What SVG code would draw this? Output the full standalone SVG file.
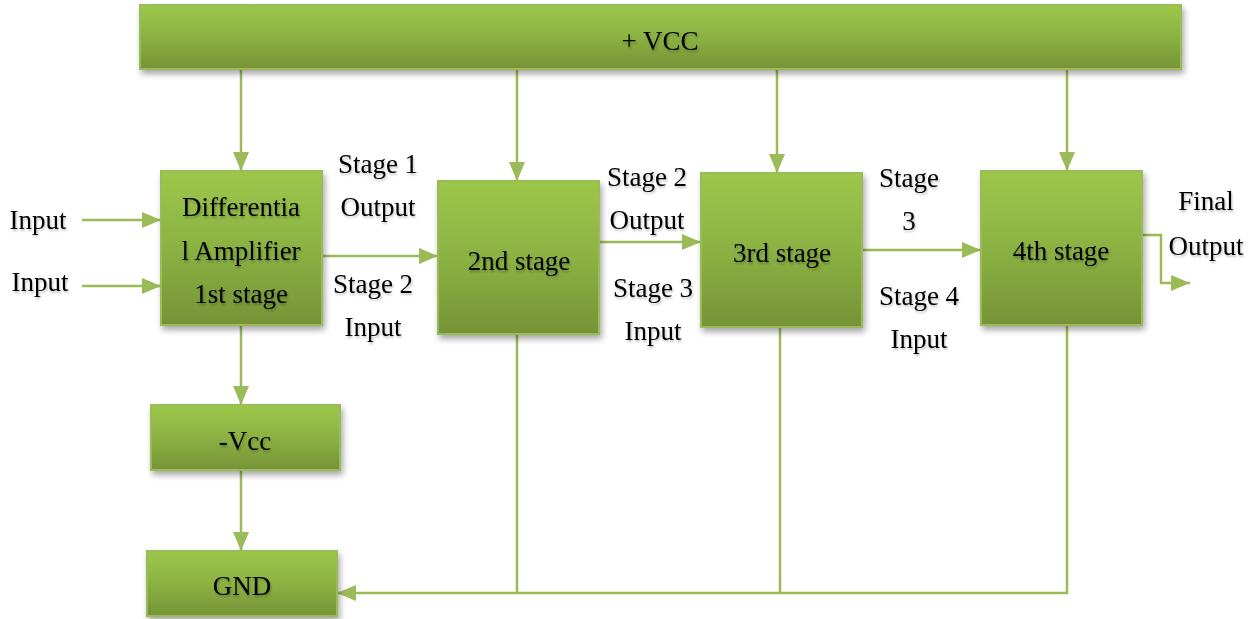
<svg xmlns="http://www.w3.org/2000/svg" width="1256" height="619" viewBox="0 0 1256 619">
<defs>
<linearGradient id="g" x1="0" y1="0" x2="0" y2="1">
<stop offset="0" stop-color="#9dc74b"/>
<stop offset="0.5" stop-color="#8bb243"/>
<stop offset="1" stop-color="#769336"/>
</linearGradient>
<filter id="sh" x="-10%" y="-10%" width="130%" height="140%">
<feGaussianBlur in="SourceAlpha" stdDeviation="3"/>
<feOffset dx="2" dy="4" result="b"/>
<feComponentTransfer><feFuncA type="linear" slope="0.35"/></feComponentTransfer>
<feMerge><feMergeNode/><feMergeNode in="SourceGraphic"/></feMerge>
</filter>
<filter id="ts" x="-10%" y="-20%" width="120%" height="150%">
<feGaussianBlur in="SourceAlpha" stdDeviation="1.2"/>
<feOffset dx="1" dy="2"/>
<feComponentTransfer><feFuncA type="linear" slope="0.25"/></feComponentTransfer>
<feMerge><feMergeNode/><feMergeNode in="SourceGraphic"/></feMerge>
</filter>
<marker id="ah" viewBox="0 0 19 16" refX="19" refY="8" markerWidth="19" markerHeight="16" markerUnits="userSpaceOnUse" orient="auto">
<path d="M0,0 L19,8 L0,16 Z" fill="#9bbb59"/>
</marker>
</defs>
<style>
.box{fill:url(#g);stroke:#9bbb59;stroke-width:2;filter:url(#sh)}
.t{font-family:'Liberation Serif','Times New Roman',serif;font-size:27px;fill:#000;text-anchor:middle;filter:url(#ts)}
.c{fill:none;stroke:#9bbb59;stroke-width:2.5}
</style>
<g id="connectors">
<line class="c" x1="241" y1="69" x2="241" y2="171" marker-end="url(#ah)"/>
<line class="c" x1="517" y1="69" x2="517" y2="181" marker-end="url(#ah)"/>
<line class="c" x1="777" y1="69" x2="777" y2="173" marker-end="url(#ah)"/>
<line class="c" x1="1067" y1="69" x2="1067" y2="171" marker-end="url(#ah)"/>
<line class="c" x1="82" y1="220" x2="161" y2="220" marker-end="url(#ah)"/>
<line class="c" x1="82" y1="286" x2="161" y2="286" marker-end="url(#ah)"/>
<line class="c" x1="322" y1="256" x2="438" y2="256" marker-end="url(#ah)"/>
<line class="c" x1="599" y1="242" x2="701" y2="242" marker-end="url(#ah)"/>
<line class="c" x1="862" y1="250" x2="981" y2="250" marker-end="url(#ah)"/>
<polyline class="c" points="1142,235 1161,235 1161,283 1190,283" marker-end="url(#ah)"/>
<line class="c" x1="241" y1="325" x2="241" y2="405" marker-end="url(#ah)"/>
<line class="c" x1="241" y1="470" x2="241" y2="551" marker-end="url(#ah)"/>
<polyline class="c" points="1067,325 1067,593 337,593" marker-end="url(#ah)"/>
<line class="c" x1="517" y1="334" x2="517" y2="593"/>
<line class="c" x1="780" y1="327" x2="780" y2="593"/>
</g>
<g id="vcc"><rect class="box" x="140" y="5" width="1041" height="64"/><text class="t" x="660" y="50">+ VCC</text></g>
<g id="stage1"><rect class="box" x="161" y="171" width="161" height="154"/>
<text class="t" x="241" y="216">Differentia</text><text class="t" x="241" y="260">l Amplifier</text><text class="t" x="241" y="303">1st stage</text></g>
<g id="stage2"><rect class="box" x="438" y="181" width="161" height="153"/><text class="t" x="519" y="270">2nd stage</text></g>
<g id="stage3"><rect class="box" x="701" y="173" width="161" height="154"/><text class="t" x="782" y="262">3rd stage</text></g>
<g id="stage4"><rect class="box" x="981" y="171" width="161" height="154"/><text class="t" x="1061" y="260">4th stage</text></g>
<g id="negvcc"><rect class="box" x="151" y="405" width="189" height="65"/><text class="t" x="245" y="450">-Vcc</text></g>
<g id="gnd"><rect class="box" x="147" y="551" width="190" height="65"/><text class="t" x="242" y="595">GND</text></g>
<g id="labels">
<text class="t" x="38" y="229">Input</text>
<text class="t" x="40" y="291">Input</text>
<text class="t" x="378" y="173">Stage 1</text>
<text class="t" x="378" y="216">Output</text>
<text class="t" x="373" y="293">Stage 2</text>
<text class="t" x="373" y="336">Input</text>
<text class="t" x="647" y="186">Stage 2</text>
<text class="t" x="647" y="229">Output</text>
<text class="t" x="653" y="297">Stage 3</text>
<text class="t" x="653" y="340">Input</text>
<text class="t" x="909" y="187">Stage</text>
<text class="t" x="909" y="230">3</text>
<text class="t" x="919" y="305">Stage 4</text>
<text class="t" x="919" y="348">Input</text>
<text class="t" x="1206" y="210">Final</text>
<text class="t" x="1206" y="255">Output</text>
</g>
</svg>
